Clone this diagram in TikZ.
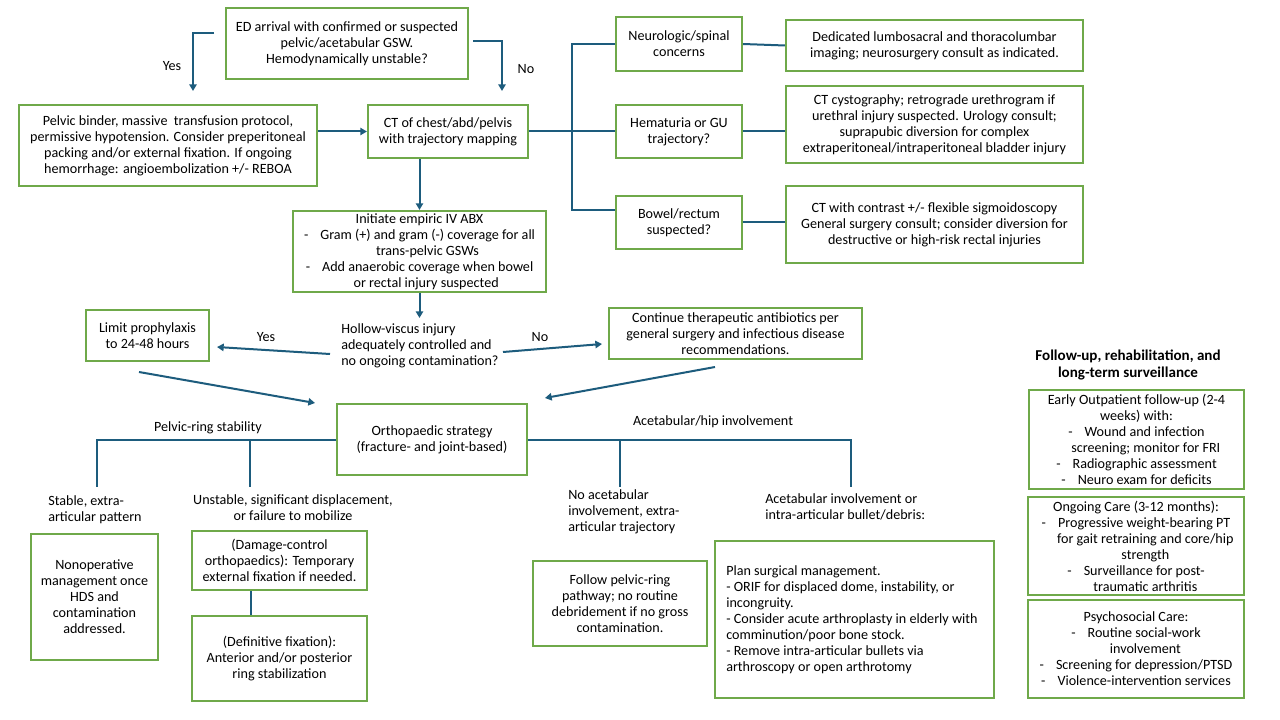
\documentclass[tikz,border=0pt]{standalone}
\usepackage{fontspec}
\setmainfont{Carlito}
\usetikzlibrary{arrows.meta,calc}
\definecolor{boxgreen}{HTML}{6FA94A}
\definecolor{lineblue}{HTML}{1D5C7D}
\newcommand\myfs{\fontsize{10.6}{12}\selectfont}
\newcommand\myts{\fontsize{11.3}{12.8}\selectfont\bfseries}
\newcommand\dsh{-\hspace{9pt}}
\tikzset{
  box/.style={draw=boxgreen, line width=1.6pt, inner sep=0pt, align=center, font=\myfs},
  txt/.style={inner sep=0pt, font=\myfs},
  conn/.style={draw=lineblue, line width=1.5pt},
  arr/.style={conn, -{Triangle[length=5pt,width=5.5pt]}},
}
% name, x1, y1, x2, y2, text
\newcommand\bx[6]{\node[box, minimum width={(#4-#2)*0.75pt}, minimum height={(#5-#3)*0.75pt}] (#1) at ({(#2+#4)/2},{(#3+#5)/2}) {#6};}
\begin{document}
\begin{tikzpicture}[x=0.75pt,y=-0.75pt]
\fill[white] (0,0) rectangle (1280,720);
\useasboundingbox (0,0) rectangle (1280,720);

% --- top row
\bx{ed}{226}{8}{468}{79}{ED arrival with confirmed or suspected\\pelvic/acetabular GSW.\\Hemodynamically unstable?}
\bx{pelvic}{19}{105}{317}{186}{Pelvic binder, massive~ transfusion protocol,\\permissive hypotension. Consider preperitoneal\\packing and/or external fixation. If ongoing\\hemorrhage: angioembolization +/- REBOA}
\bx{ct}{368}{105}{528}{158}{CT of chest/abd/pelvis\\with trajectory mapping}
\bx{init}{293}{211}{546}{292}{Initiate empiric IV ABX\\\dsh Gram (+) and gram (-) coverage for all\\\hspace{12pt}trans-pelvic GSWs\\\dsh Add anaerobic coverage when bowel\\\hspace{10pt}or rectal injury suspected}

\bx{neuro}{616}{17}{742}{71}{Neurologic/spinal\\concerns}
\bx{ded}{786}{20}{1083}{71}{Dedicated lumbosacral and thoracolumbar\\imaging; neurosurgery consult as indicated.}
\bx{hem}{616}{105}{742}{158}{Hematuria or GU\\trajectory?}
\bx{cysto}{786}{86}{1083}{163}{CT cystography; retrograde urethrogram if\\urethral injury suspected. Urology consult;\\suprapubic diversion for complex\\extraperitoneal/intraperitoneal bladder injury}
\bx{bowel}{616}{196}{742}{249}{Bowel/rectum\\suspected?}
\bx{contrast}{786}{186}{1083}{263}{CT with contrast +/- flexible sigmoidoscopy\\General surgery consult; consider diversion for\\destructive or high-risk rectal injuries}

\node[txt] (yes1) at (172,66) {Yes};
\node[txt] (no1) at (526,69) {No};

% --- middle
\node[txt, anchor=west, align=left] (hollow) at (341,346) {Hollow-viscus injury\\adequately controlled and\\no ongoing contamination?};
\bx{limit}{86}{310}{209}{361}{Limit prophylaxis\\to 24-48 hours}
\bx{cont}{609}{308}{862}{359}{Continue therapeutic antibiotics per\\general surgery and infectious disease\\recommendations.}
\node[txt] (yes2) at (266,337) {Yes};
\node[txt] (no2) at (540,337) {No};

\bx{ortho}{337}{404}{527}{475}{Orthopaedic strategy\\(fracture- and joint-based)}

% --- bottom left
\node[txt] (prlab) at (208,428) {Pelvic-ring stability};
\node[txt, anchor=west, align=left] (stable) at (48,510) {Stable, extra-\\articular pattern};
\node[txt, align=center] (unstable) at (293,508) {Unstable, significant displacement,\\or failure to mobilize};
\bx{nonop}{31}{534}{158}{660}{Nonoperative\\management once\\HDS and\\contamination\\addressed.}
\bx{dmg}{192}{531}{367}{590}{(Damage-control\\orthopaedics): Temporary\\external fixation if needed.}
\bx{def}{192}{616}{367}{701}{(Definitive fixation):\\Anterior and/or posterior\\ring stabilization}

% --- bottom middle
\node[txt] (aclab) at (713,422) {Acetabular/hip involvement};
\node[txt, anchor=west, align=left] (noacet) at (568,512) {No acetabular\\involvement, extra-\\articular trajectory};
\node[txt, anchor=west, align=left] (acet) at (765,507) {Acetabular involvement or\\intra-articular bullet/debris:};
\bx{follow}{533}{561}{707}{646}{Follow pelvic-ring\\pathway; no routine\\debridement if no gross\\contamination.}
\bx{plan}{715}{541}{994}{698}{}
\node[txt, anchor=west, align=left] (plantext) at (726,620) {Plan surgical management.\\- ORIF for displaced dome, instability, or\\incongruity.\\- Consider acute arthroplasty in elderly with\\comminution/poor bone stock.\\- Remove intra-articular bullets via\\arthroscopy or open arthrotomy};

% --- right column
\node[inner sep=0pt, align=center, font=\myts] (title) at (1128,365) {Follow-up, rehabilitation, and\\long-term surveillance};
\bx{early}{1029}{390}{1244}{489}{Early Outpatient follow-up (2-4\\weeks) with:\\\dsh Wound and infection\\\hspace{14pt}screening; monitor for FRI\\\dsh Radiographic assessment\\\dsh Neuro exam for deficits}
\bx{ongo}{1028}{497}{1244}{595}{Ongoing Care (3-12 months):\\\dsh Progressive weight-bearing PT\\\hspace{14pt}for gait retraining and core/hip\\\hspace{14pt}strength\\\dsh Surveillance for post-\\\hspace{14pt}traumatic arthritis}
\bx{psych}{1028}{600}{1244}{698}{Psychosocial Care:\\\dsh Routine social-work\\\hspace{14pt}involvement\\\dsh Screening for depression/PTSD\\\dsh Violence-intervention services}

% --- coordinates for free connector ends
\coordinate (yesS) at (214,33);
\coordinate (yesE) at (193,91);
\coordinate (noS) at (473,41);
\coordinate (noE) at (502,91);
\coordinate (bus) at (572,132);
\coordinate (busB) at (572,210);
\coordinate (hq) at (419.5,318);
\coordinate (y2s) at (330,354);
\coordinate (y2e) at (217,347);
\coordinate (n2s) at (503,352);
\coordinate (n2e) at (602,344);
\coordinate (l1) at (139,372);
\coordinate (l2) at (315,403);
\coordinate (c1) at (715,367);
\coordinate (c2) at (545,398);
\coordinate (pl1) at (97,487);
\coordinate (pl2) at (250,487);
\coordinate (ac1) at (620,487);
\coordinate (ac2) at (851,487);
\coordinate (dd) at (251,600);

% --- connectors
\draw[arr] (yesS) -| (yesE);
\draw[arr] (noS) -| (noE);
\draw[arr] (pelvic.east |- ct.west) -- (ct.west);
\draw[arr] (ct.south -| init.north) -- (init.north);
\draw[conn] (ct.east) -- (ct.east -| bus);
\draw[conn] (neuro.west) -- (neuro.west -| bus) -- (busB) -- (bowel.west |- busB);
\draw[conn] (hem.west) -- (hem.west -| bus);
\draw[conn] (neuro.east) -- (ded.west);
\draw[conn] (hem.east) -- (hem.east -| cysto.west);
\draw[conn] (bowel.east) -- (bowel.east -| contrast.west);
\draw[arr] (init.south) -- (hq);
\draw[arr] (y2s) -- (y2e);
\draw[arr] (n2s) -- (n2e);
\draw[arr] (l1) -- (l2);
\draw[arr] (c1) -- (c2);
\draw[conn] (ortho.west) -- (ortho.west -| pl1) -- (pl1);
\draw[conn] (ortho.west -| pl2) -- (pl2);
\draw[conn] (ortho.east) -- (ortho.east -| ac2) -- (ac2);
\draw[conn] (ortho.east -| ac1) -- (ac1);
\draw[conn] (dmg.south -| dd) -- (def.north -| dd);
\end{tikzpicture}
\end{document}
